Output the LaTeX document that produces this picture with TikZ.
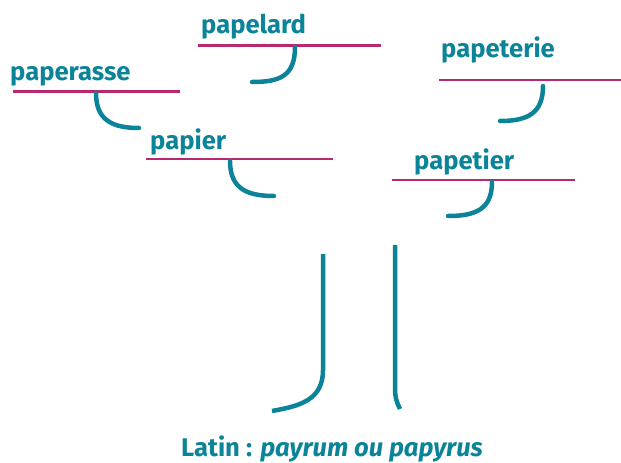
\documentclass[tikz,border=0pt]{standalone}
\usepackage{fontspec}
\setmainfont{Fira Sans}
\definecolor{teal}{HTML}{0B8499}
\definecolor{mag}{HTML}{B8286E}
\tikzset{
  word/.style={anchor=base west, inner sep=0pt, text=teal, font=\fontsize{25.6}{26}\selectfont\bfseries},
  bar/.style={draw=mag, line width=2.4pt},
  hook/.style={draw=teal, line width=4.5pt, line cap=round},
}
\begin{document}
\begin{tikzpicture}[x=1pt,y=-1pt]
\useasboundingbox (0,0) rectangle (621,463);
% words
\node[word] (papelard) at (201,33.5) {papelard};
\node[word] (paperasse) at (10,80) {paperasse};
\node[word] (papier) at (150,149) {papier};
\node[word] (papeterie) at (441,57) {papeterie};
\node[word] (papetier) at (414,169) {papetier};
\node[word] (latin) at (181,456) {Latin : \itshape payrum ou papyrus};
% bars
\coordinate (b1a) at (198,45.5); \coordinate (b1b) at (381,45.5);
\coordinate (b2a) at (13,91.5); \coordinate (b2b) at (180,91.5);
\coordinate (b3a) at (146,159); \coordinate (b3b) at (333,159);
\coordinate (b4a) at (439,80); \coordinate (b4b) at (621,80);
\coordinate (b5a) at (392,180); \coordinate (b5b) at (575,180);
\path[bar] (b1a) -- (b1b);
\path[bar] (b2a) -- (b2b);
\path[bar] (b3a) -- (b3b);
\path[bar] (b4a) -- (b4b);
\path[bar] (b5a) -- (b5b);
% hooks
\path[hook] (295,47) .. controls (295,76) and (280,82) .. (252,82);
\path[hook] (96,93) .. controls (96,120) and (112,128) .. (139,128);
\path[hook] (230,161) .. controls (230,188) and (246,196) .. (274,196);
\path[hook] (543,86) .. controls (543,113) and (528,121) .. (500,121);
\path[hook] (492,182) .. controls (492,209) and (476,216) .. (448,216);
% trunk
\path[hook, line cap=butt] (323,254) -- (323,370) .. controls (323,400) and (300,406) .. (272,411);
\path[hook, line cap=butt] (395,245) -- (395,388) .. controls (395,398) and (397,403) .. (400,409);
\end{tikzpicture}
\end{document}
